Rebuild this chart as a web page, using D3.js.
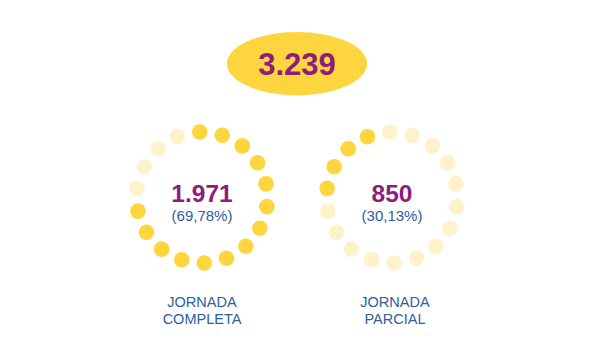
<!DOCTYPE html>
<html>
<head>
<meta charset="utf-8">
<script src="https://cdn.jsdelivr.net/npm/d3@7"></script>
<style>
  html, body { margin: 0; padding: 0; background: #ffffff; }
  svg { display: block; font-family: "Liberation Sans", Arial, sans-serif; }
</style>
</head>
<body>
<svg id="chart" width="609" height="348"></svg>
<script>
// ---- data ----
const total = 3239;
const categories = ["JORNADA COMPLETA", "JORNADA PARCIAL"];
const labelLines = [["JORNADA", "COMPLETA"], ["JORNADA", "PARCIAL"]];
const values = [1971, 850];
const percents = ["69,78%", "30,13%"];
const dotSegments = [14, 4];   // dots per category on an 18-dot ring

// ---- styles ----
const YELLOW = "#FFD53F";
const LIGHT = "#FFF1CA";
const PURPLE = "#8E1C7D";
const BLUE = "#2E5E9E";

const svg = d3.select("#chart");
const locale = d3.formatLocale({ decimal: ",", thousands: ".", grouping: [3], currency: ["", "€"] });
const fmt = locale.format(",d");

// total badge
const badge = svg.append("g");
badge.append("ellipse")
  .attr("cx", 297).attr("cy", 63.7).attr("rx", 70).attr("ry", 31.7)
  .attr("fill", YELLOW);
badge.append("text")
  .attr("x", 297).attr("y", 74.5)
  .attr("text-anchor", "middle")
  .attr("font-size", 31).attr("font-weight", "bold")
  .attr("fill", PURPLE)
  .text(fmt(total));

// ring layout
const nDots = d3.sum(dotSegments);
const x = d3.scalePoint().domain(categories).range([202, 392]);
const cy = 197.5, R = 65.5, dotR = 7.8;
const angle = d3.scaleLinear().domain([0, nDots]).range([-2, 358]);
const segStart = [0, dotSegments[0]];

categories.forEach((cat, ci) => {
  const cx = x(cat);
  const g = svg.append("g");
  const dots = d3.range(nDots).map(i => ({
    i,
    on: i >= segStart[ci] && i < segStart[ci] + dotSegments[ci]
  }));
  g.selectAll("circle").data(dots).join("circle")
    .attr("cx", d => cx + R * Math.sin(angle(d.i) * Math.PI / 180))
    .attr("cy", d => cy - R * Math.cos(angle(d.i) * Math.PI / 180))
    .attr("r", dotR)
    .attr("fill", d => d.on ? YELLOW : LIGHT);

  g.append("text")
    .attr("x", cx).attr("y", 202)
    .attr("text-anchor", "middle")
    .attr("font-size", 24.5).attr("font-weight", "bold")
    .attr("fill", PURPLE)
    .text(fmt(values[ci]));
  g.append("text")
    .attr("x", cx).attr("y", 221)
    .attr("text-anchor", "middle")
    .attr("font-size", 15)
    .attr("fill", BLUE)
    .text("(" + percents[ci] + ")");

  const lbl = g.append("text")
    .attr("text-anchor", "middle")
    .attr("font-size", 14.5)
    .attr("fill", BLUE);
  labelLines[ci].forEach((line, li) => {
    lbl.append("tspan")
      .attr("x", cx + (ci === 1 ? 3 : 0))
      .attr("y", 306.5 + li * 17.5)
      .text(line);
  });
});
</script>
</body>
</html>
